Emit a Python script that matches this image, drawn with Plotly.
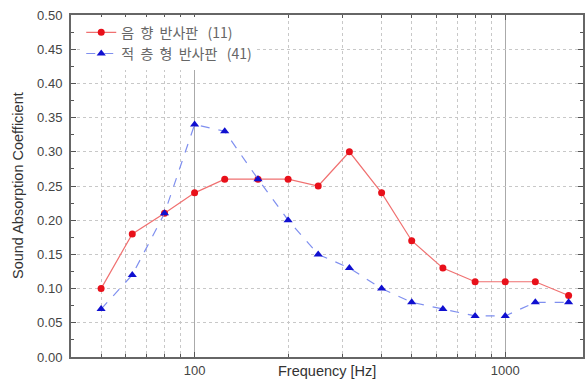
import plotly.graph_objects as go
import math

freqs = [50, 63, 80, 100, 125, 160, 200, 250, 315, 400, 500, 630, 800, 1000, 1250, 1600]
acoustic_reflector = [0.10, 0.18, 0.21, 0.24, 0.26, 0.26, 0.26, 0.25, 0.30, 0.24, 0.17, 0.13, 0.11, 0.11, 0.11, 0.09]
laminated_reflector = [0.07, 0.12, 0.21, 0.34, 0.33, 0.26, 0.20, 0.15, 0.13, 0.10, 0.08, 0.07, 0.06, 0.06, 0.08, 0.08]
series_names = ["음  향  반사판   (11)", "적  층  형  반사판   (41)"]
y_ticks = [0.00, 0.05, 0.10, 0.15, 0.20, 0.25, 0.30, 0.35, 0.40, 0.45, 0.50]
x_ticks = [100, 1000]

fig = go.Figure()
fig.add_trace(go.Scatter(
    x=freqs, y=acoustic_reflector, name=series_names[0], mode="lines+markers",
    line=dict(color="#f07070", width=1.2),
    marker=dict(symbol="circle", size=7, color="#e8101a"),
))
fig.add_trace(go.Scatter(
    x=freqs, y=laminated_reflector, name=series_names[1], mode="lines+markers",
    line=dict(color="#7f8fef", width=1.2, dash="dash"),
    marker=dict(symbol="triangle-up", size=8, color="#1010d0"),
))

font_fam = "Liberation Sans, Arial, Noto Sans CJK KR, sans-serif"

fig.update_layout(
    width=587, height=382,
    margin=dict(l=71, r=2, t=15, b=25),
    paper_bgcolor="white", plot_bgcolor="white",
    font=dict(family=font_fam, size=12, color="#444"),
    showlegend=True,
    legend=dict(x=0.02, y=0.995, xanchor="left", yanchor="top",
                bgcolor="white", borderwidth=0,
                font=dict(family="Noto Sans CJK KR, Liberation Sans, sans-serif", size=14, color="#666"),
                tracegroupgap=0),
    xaxis=dict(
        type="log", range=[math.log10(40), math.log10(1780)],
        tickvals=x_ticks, ticktext=[str(v) for v in x_ticks],
        ticks="inside", ticklen=5, tickcolor="#555",
        showline=True, linecolor="#666", linewidth=2, mirror="ticks",
        showgrid=True, gridcolor="#aaa", gridwidth=1,
        minor=dict(tickvals=[40, 50, 60, 70, 80, 90, 200, 300, 400, 500, 600, 700, 800, 900],
                   ticks="inside", ticklen=3, tickcolor="#555",
                   showgrid=True, gridcolor="#c8c8c8", griddash="dot", gridwidth=1),
        tickfont=dict(size=13, color="#444"),
        zeroline=False,
    ),
    yaxis=dict(
        range=[0, 0.5], tickvals=y_ticks, tickformat=".2f",
        ticks="inside", ticklen=5, tickcolor="#555",
        showline=True, linecolor="#666", linewidth=2, mirror="ticks",
        showgrid=True, gridcolor="#c8c8c8", griddash="dot", gridwidth=1,
        minor=dict(dtick=0.025, ticks="inside", ticklen=3, tickcolor="#555", showgrid=False),
        tickfont=dict(size=13, color="#444"),
        ticklabelstandoff=4,
        zeroline=False,
    ),
    annotations=[
        dict(text="Frequency [Hz]", xref="paper", yref="paper", x=0.5, y=0,
             yshift=-14, xanchor="center", yanchor="middle", showarrow=False,
             font=dict(size=14.5, color="#333")),
        dict(text="Sound Absorption Coefficient", xref="paper", yref="paper", x=0, y=0.5,
             xshift=-53, textangle=-90, xanchor="center", yanchor="middle", showarrow=False,
             font=dict(size=14.5, color="#333")),
    ],
)

fig.write_html("out.html")
